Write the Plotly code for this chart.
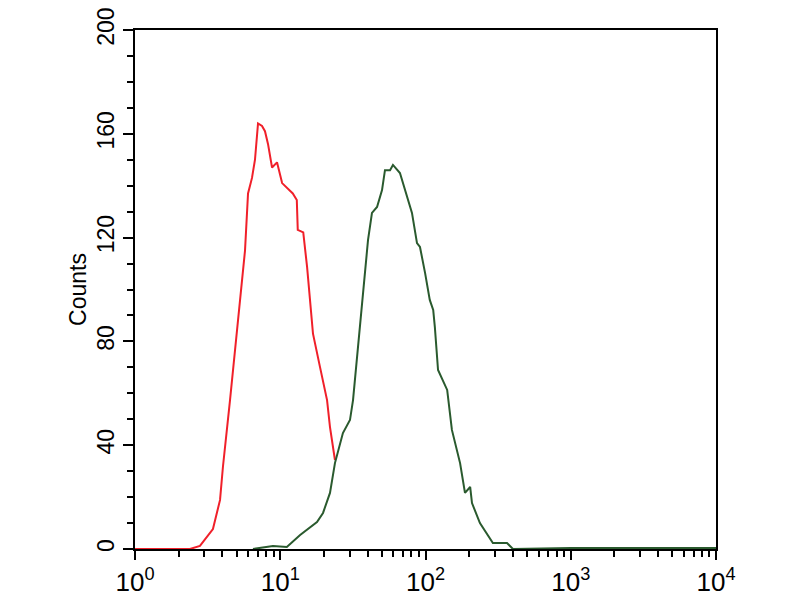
import plotly.graph_objects as go

# Isotype control histogram (red)
red_x = [1.0, 2.39, 2.80, 3.44, 3.85, 4.03, 4.51, 5.04, 5.28, 5.72, 6.00, 6.39, 6.70,
         7.03, 7.49, 7.85, 8.24, 8.78, 9.50, 10.3, 12.2, 13.0, 13.2, 14.4, 15.3, 16.0,
         16.8, 18.8, 21.0, 22.0, 23.8]
red_y = [0, 0, 1.2, 7.7, 18.9, 31.6, 57.4, 83.2, 96, 115, 137, 143, 150,
         164, 163, 161, 156, 147, 149, 141, 137, 134.5, 123, 122, 108.7, 96,
         83, 70, 57.4, 47, 34.3]

# Antibody-stained histogram (green)
green_x = [6.49, 8.91, 11.1, 13.7, 17.9, 19.7, 22.0, 23.8, 27.0, 30.2, 31.7, 34.3, 37.1,
           40.2, 42.8, 46.4, 50.2, 52.6, 57.0, 59.7, 66.7, 74.6, 80.7, 87.4, 91.6, 99.3,
           107, 113, 116, 122, 141, 152, 173, 187, 203, 209, 237, 291, 364, 400, 1000, 10000]
green_y = [0, 1.2, 0.8, 5.4, 10.4, 13.9, 21.6, 33.1, 44.7, 49.7, 57.4, 78.6, 99.8,
           119, 129.5, 131.8, 138.3, 146, 146, 148, 144.9, 135.6, 129.5, 117.9, 116.4, 106.4,
           96, 92.1, 85.5, 69, 61.3, 45.9, 33.1, 21.6, 23.9, 17.7, 10, 2.3, 2.3, 0, 0.4, 0.4]

x_ticks = [1, 10, 100, 1000, 10000]
x_labels = ["10<sup>0</sup>", "10<sup>1</sup>", "10<sup>2</sup>", "10<sup>3</sup>", "10<sup>4</sup>"]
y_ticks = [0, 40, 80, 120, 160, 200]
y_labels = ["0", "40", "80", "120", "160", "200"]

minor_x = [m * 10 ** d for d in range(4) for m in range(2, 10)]

narrow = "Liberation Sans Narrow, Liberation Sans, Arial"

fig = go.Figure()
fig.add_trace(go.Scatter(x=red_x, y=red_y, mode="lines", cliponaxis=False,
                         line=dict(color="#f0202a", width=2)))
fig.add_trace(go.Scatter(x=green_x, y=green_y, mode="lines", cliponaxis=False,
                         line=dict(color="#2a5a2e", width=2)))

# page body adds ~8px, so the figure is a bit smaller than the window
fig.update_layout(
    width=792, height=592,
    showlegend=False,
    plot_bgcolor="white",
    paper_bgcolor="white",
    margin=dict(l=127, r=84, t=22, b=51),
    font=dict(family=narrow, color="black"),
    xaxis=dict(
        type="log", range=[0, 4], automargin=False,
        tickmode="array", tickvals=x_ticks, ticktext=x_labels,
        ticks="outside", ticklen=9, tickwidth=1.5, tickcolor="black",
        minor=dict(tickmode="array", tickvals=minor_x, ticks="outside",
                   ticklen=6, tickwidth=1.5, tickcolor="black"),
        showline=True, linecolor="black", linewidth=1.5, mirror=True,
        showgrid=False, zeroline=False,
        tickfont=dict(size=26), ticklabeloverflow="allow",
    ),
    yaxis=dict(
        range=[0, 200], automargin=False,
        tickmode="array", tickvals=y_ticks, ticktext=y_labels,
        ticks="outside", ticklen=10, tickwidth=1.5, tickcolor="black",
        minor=dict(dtick=10, ticks="outside", ticklen=6, tickwidth=1.5, tickcolor="black"),
        showline=True, linecolor="black", linewidth=1.5, mirror=True,
        showgrid=False, zeroline=False,
        tickangle=-90, tickfont=dict(size=23), ticklabeloverflow="allow",
        title=dict(text="Counts", font=dict(size=23), standoff=0),
    ),
)

fig.write_html("out.html")
